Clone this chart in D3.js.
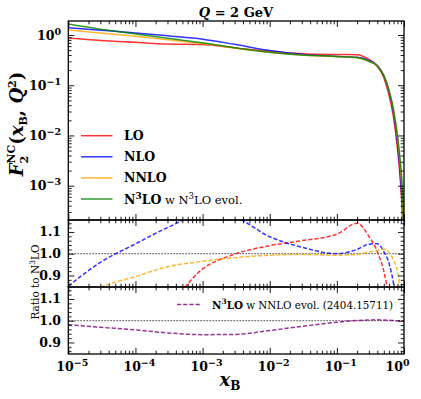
<!DOCTYPE html>
<html>
<head>
<meta charset="utf-8">
<script src="https://cdn.jsdelivr.net/npm/d3@7"></script>
<style>
  body { margin: 0; background: #fff; }
  svg { display: block; font-family: 'DejaVu Serif', serif; }
</style>
</head>
<body>
<div id="chart"></div>
<script>
// x_B grid shared by every curve
const xB = [1e-5, 3e-5, 1e-4, 3e-4, 1e-3, 3e-3, 0.01, 0.03, 0.1, 0.2, 0.3, 0.4, 0.5, 0.6, 0.7, 0.8, 0.9, 0.95, 0.98, 0.995];

// F2 structure function (top panel)
const f2LO   = [0.875, 0.78, 0.714, 0.66, 0.644, 0.554, 0.472, 0.424, 0.409, 0.405, 0.326, 0.242, 0.143, 0.062, 0.0224, 0.0054, 0.00088, 0.00024, 0.00005, 0.000003];
const f2NLO  = [1.40, 1.25, 1.10, 0.963, 0.826, 0.652, 0.49, 0.412, 0.375, 0.362, 0.313, 0.251, 0.157, 0.0745, 0.0275, 0.0071, 0.0011, 0.00032, 0.000075, 0.000006];
const f2NNLO = [1.254, 1.10, 0.94, 0.808, 0.676, 0.55, 0.452, 0.399, 0.372, 0.354, 0.302, 0.244, 0.158, 0.078, 0.031, 0.009, 0.0017, 0.00048, 0.0001, 0.000006];
const f2N3LO = [1.65, 1.3, 1.05, 0.86, 0.70, 0.56, 0.455, 0.40, 0.375, 0.355, 0.30, 0.24, 0.155, 0.078, 0.032, 0.0098, 0.0022, 0.0008, 0.00025, 0.00003];

// ratios to N3LO (middle panel)
const ratioLO   = [0.53, 0.6, 0.68, 0.76, 0.93, 0.998, 1.037, 1.06, 1.09, 1.14, 1.08, 1.01, 0.92, 0.8, 0.7, 0.55, 0.4, 0.3, 0.2, 0.1];
const ratioNLO  = [0.851, 0.96, 1.045, 1.12, 1.18, 1.165, 1.078, 1.03, 1.0, 1.02, 1.044, 1.046, 1.01, 0.955, 0.86, 0.72, 0.5, 0.4, 0.3, 0.2];
const ratioNNLO = [0.76, 0.845, 0.895, 0.94, 0.965, 0.982, 0.993, 0.997, 0.993, 0.997, 1.008, 1.015, 1.02, 1.005, 0.97, 0.915, 0.78, 0.6, 0.4, 0.2];

// N3LO with NNLO evolution over N3LO (bottom panel)
const ratioNNLOevol = [0.982, 0.97, 0.958, 0.944, 0.936, 0.937, 0.955, 0.974, 0.993, 1.001, 1.003, 1.004, 1.003, 1.002, 1.001, 1.0, 1.0, 1.0, 1.0, 1.0];

// tick labels
const xTicks = [1e-5, 1e-4, 1e-3, 1e-2, 1e-1, 1];
const xTickExp = ['\u22125', '\u22124', '\u22123', '\u22122', '\u22121', '0'];
const yTopTicks = [1, 0.1, 0.01, 0.001];
const yTopTickExp = ['0', '\u22121', '\u22122', '\u22123'];
const ratioTicks = [0.9, 1.0, 1.1];
const ratioTickLabels = ['0.9', '1.0', '1.1'];

const W = 421, H = 399;
const left = 68.3, right = 404;
const panels = {
    top: [21, 220],
    mid: [220, 287],
    bot: [287, 354]
};

const colors = {
    LO: 'rgba(255,0,0,0.8)',
    NLO: 'rgba(0,0,255,0.8)',
    NNLO: 'rgba(255,165,0,0.8)',
    N3LO: 'rgba(0,128,0,0.8)',
    evol: 'rgba(128,0,128,0.8)'
};

const svg = d3.select('#chart').append('svg')
    .attr('width', W)
    .attr('height', H);

// Scales
const x = d3.scaleLog().domain([1e-5, 1]).range([left, right]);
const yTop = d3.scaleLog().domain([Math.pow(10, -3.683), Math.pow(10, 0.279)]).range([panels.top[1], panels.top[0]]);
const yMid = d3.scaleLinear().domain([0.847, 1.155]).range([panels.mid[1], panels.mid[0]]);
const yBot = d3.scaleLinear().domain([0.847, 1.155]).range([panels.bot[1], panels.bot[0]]);

// Clip paths per panel
const defs = svg.append('defs');
Object.entries(panels).forEach(([name, [y0, y1]]) => {
    defs.append('clipPath').attr('id', 'clip-' + name)
        .append('rect')
        .attr('x', left).attr('y', y0)
        .attr('width', right - left).attr('height', y1 - y0);
});

// minor tick positions
const xMinor = [];
for (let d = -5; d < 0; d++) {
    for (let k = 2; k < 10; k++) xMinor.push(k * Math.pow(10, d));
}
const yTopMinor = [];
for (let d = -4; d <= 0; d++) {
    for (let k = 2; k < 10; k++) {
        const v = k * Math.pow(10, d);
        if (v > yTop.domain()[0] && v < yTop.domain()[1]) yTopMinor.push(v);
    }
}
const ratioMinor = d3.range(0.86, 1.15, 0.02).filter(v => Math.abs(v * 10 - Math.round(v * 10)) > 0.01);

function tickGroup(axis, transform) {
    svg.append('g')
        .attr('transform', transform)
        .call(axis.tickFormat(''))
        .call(g => g.select('.domain').remove())
        .selectAll('line')
        .attr('stroke', '#000')
        .attr('stroke-width', 0.9);
}

function panelTicks(name, yScale, majors, minors) {
    const [y0, y1] = panels[name];
    // x ticks on bottom and top edges, pointing inward
    tickGroup(d3.axisBottom(x).tickValues(xTicks).tickSize(-6), `translate(0,${y1})`);
    tickGroup(d3.axisBottom(x).tickValues(xMinor).tickSize(-3.3), `translate(0,${y1})`);
    tickGroup(d3.axisTop(x).tickValues(xTicks).tickSize(-6), `translate(0,${y0})`);
    tickGroup(d3.axisTop(x).tickValues(xMinor).tickSize(-3.3), `translate(0,${y0})`);
    // y ticks on left and right
    tickGroup(d3.axisLeft(yScale).tickValues(majors).tickSize(-6), `translate(${left},0)`);
    tickGroup(d3.axisLeft(yScale).tickValues(minors).tickSize(-3.3), `translate(${left},0)`);
    tickGroup(d3.axisRight(yScale).tickValues(majors).tickSize(-6), `translate(${right},0)`);
    tickGroup(d3.axisRight(yScale).tickValues(minors).tickSize(-3.3), `translate(${right},0)`);
}

function drawCurve(name, yScale, values, color, dashed) {
    const line = d3.line()
        .x(d => x(d[0]))
        .y(d => yScale(d[1]))
        .curve(d3.curveMonotoneX);
    svg.append('path')
        .datum(xB.map((v, i) => [v, values[i]]))
        .attr('clip-path', `url(#clip-${name})`)
        .attr('d', line)
        .attr('fill', 'none')
        .attr('stroke', color)
        .attr('stroke-width', 1.5)
        .attr('stroke-dasharray', dashed ? '4.2,2' : null);
}

function unityLine(name, yScale) {
    svg.append('line')
        .attr('x1', left).attr('x2', right)
        .attr('y1', yScale(1)).attr('y2', yScale(1))
        .attr('stroke', '#555')
        .attr('stroke-width', 1)
        .attr('stroke-dasharray', '1.8,1.2');
}

// Top panel curves
drawCurve('top', yTop, f2LO, colors.LO);
drawCurve('top', yTop, f2NLO, colors.NLO);
drawCurve('top', yTop, f2NNLO, colors.NNLO);
drawCurve('top', yTop, f2N3LO, colors.N3LO);

// Middle panel: ratios
unityLine('mid', yMid);
drawCurve('mid', yMid, ratioLO, colors.LO, true);
drawCurve('mid', yMid, ratioNLO, colors.NLO, true);
drawCurve('mid', yMid, ratioNNLO, colors.NNLO, true);

// Bottom panel
unityLine('bot', yBot);
drawCurve('bot', yBot, ratioNNLOevol, colors.evol, true);

// Ticks and frames
panelTicks('top', yTop, yTopTicks, yTopMinor);
panelTicks('mid', yMid, ratioTicks, ratioMinor);
panelTicks('bot', yBot, ratioTicks, ratioMinor);

Object.values(panels).forEach(([y0, y1]) => {
    svg.append('rect')
        .attr('x', left).attr('y', y0)
        .attr('width', right - left).attr('height', y1 - y0)
        .attr('fill', 'none')
        .attr('stroke', '#000')
        .attr('stroke-width', 1.3);
});

// Tick labels
xTicks.forEach((v, i) => {
    const t = svg.append('text')
        .attr('x', x(v) + (i === xTicks.length - 1 ? -6.5 : 4))
        .attr('y', 371)
        .attr('text-anchor', 'middle')
        .attr('font-size', 12.5)
        .attr('font-weight', 'bold');
    t.append('tspan').text('10');
    t.append('tspan').attr('dy', -5).attr('font-size', 9.5).text(xTickExp[i]);
});

yTopTicks.forEach((v, i) => {
    const t = svg.append('text')
        .attr('x', 61)
        .attr('y', yTop(v) + 4.5)
        .attr('text-anchor', 'end')
        .attr('font-size', 12.5)
        .attr('font-weight', 'bold');
    t.append('tspan').text('10');
    t.append('tspan').attr('dy', -5).attr('font-size', 9.5).text(yTopTickExp[i]);
});

[yMid, yBot].forEach(scale => {
    ratioTicks.forEach((v, i) => {
        svg.append('text')
            .attr('x', 61)
            .attr('y', scale(v) + 4.5)
            .attr('text-anchor', 'end')
            .attr('font-size', 12.5)
            .attr('font-weight', 'bold')
            .text(ratioTickLabels[i]);
    });
});

// Title
const title = svg.append('text')
    .attr('x', 236).attr('y', 17)
    .attr('text-anchor', 'middle')
    .attr('font-size', 13)
    .attr('font-weight', 'bold');
title.append('tspan').attr('font-style', 'italic').text('Q');
title.append('tspan').text(' = 2 GeV');

// x label
const xl = svg.append('text')
    .attr('x', 230).attr('y', 386)
    .attr('text-anchor', 'middle')
    .attr('font-size', 18)
    .attr('font-weight', 'bold');
xl.append('tspan').attr('font-style', 'italic').text('x');
xl.append('tspan').attr('dy', 4).attr('font-size', 12).text('B');

// y label, top panel
const yl = svg.append('text')
    .attr('transform', 'translate(23,124) rotate(-90)')
    .attr('text-anchor', 'middle')
    .attr('font-size', 18)
    .attr('font-weight', 'bold');
yl.append('tspan').attr('font-style', 'italic').text('F');
yl.append('tspan').attr('dy', 5).attr('font-size', 11).text('2');
yl.append('tspan').attr('dx', -7.7).attr('dy', -13).attr('font-size', 11).text('NC');
yl.append('tspan').attr('dy', 8).text('(');
yl.append('tspan').attr('font-style', 'italic').text('x');
yl.append('tspan').attr('dy', 4).attr('font-size', 11).text('B');
yl.append('tspan').attr('dy', -4).text(', ');
yl.append('tspan').attr('font-style', 'italic').text('Q');
yl.append('tspan').attr('dy', -7).attr('font-size', 11).text('2');
yl.append('tspan').attr('dy', 7).text(')');

// y label, ratio panels
const rl = svg.append('text')
    .attr('transform', 'translate(39,282) rotate(-90)')
    .attr('text-anchor', 'middle')
    .attr('font-size', 10.5);
rl.append('tspan').text('Ratio to N');
rl.append('tspan').attr('dy', -4).attr('font-size', 7.5).text('3');
rl.append('tspan').attr('dy', 4).text('LO');

// Legend, top panel
const legendRows = [
    { label: 'LO', color: colors.LO },
    { label: 'NLO', color: colors.NLO },
    { label: 'NNLO', color: colors.NNLO },
    { label: 'N3LO', color: colors.N3LO }
];
legendRows.forEach((row, i) => {
    const y = 135.7 + i * 21.1;
    svg.append('line')
        .attr('x1', 81).attr('x2', 112.5)
        .attr('y1', y).attr('y2', y)
        .attr('stroke', row.color)
        .attr('stroke-width', 1.5);
    const t = svg.append('text')
        .attr('x', 124).attr('y', y + 4.5)
        .attr('font-size', 12.5);
    if (row.label === 'N3LO') {
        t.append('tspan').attr('font-weight', 'bold').text('N');
        t.append('tspan').attr('font-weight', 'bold').attr('dy', -5).attr('font-size', 9).text('3');
        t.append('tspan').attr('font-weight', 'bold').attr('dy', 5).text('LO');
        t.append('tspan').attr('font-size', 11.5).text(' w N');
        t.append('tspan').attr('dy', -5).attr('font-size', 8.5).text('3');
        t.append('tspan').attr('dy', 5).attr('font-size', 11.5).text('LO evol.');
    } else {
        t.attr('font-weight', 'bold').text(row.label);
    }
});

// Legend, bottom panel
svg.append('line')
    .attr('x1', 177).attr('x2', 200)
    .attr('y1', 304.5).attr('y2', 304.5)
    .attr('stroke', colors.evol)
    .attr('stroke-width', 1.5)
    .attr('stroke-dasharray', '4.2,2');
const bl = svg.append('text')
    .attr('x', 212).attr('y', 308.5)
    .attr('font-size', 10.3);
bl.append('tspan').attr('font-weight', 'bold').text('N');
bl.append('tspan').attr('font-weight', 'bold').attr('dy', -4.5).attr('font-size', 7.5).text('3');
bl.append('tspan').attr('font-weight', 'bold').attr('dy', 4.5).text('LO');
bl.append('tspan').text(' w NNLO evol. (2404.15711)');
</script>
</body>
</html>
